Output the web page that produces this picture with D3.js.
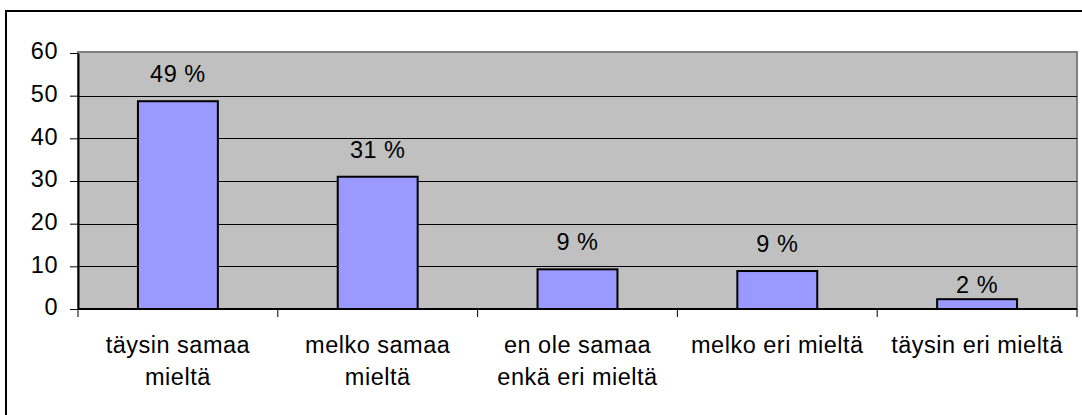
<!DOCTYPE html>
<html>
<head>
<meta charset="utf-8">
<script src="https://cdn.jsdelivr.net/npm/d3@7"></script>
<style>
  body { margin: 0; background: #fff; }
  text { font-family: "Liberation Sans", Arial, sans-serif; }
</style>
</head>
<body>
<svg id="vis" width="1082" height="415"></svg>
<script>
// chart data
var categories = ["täysin samaa mieltä", "melko samaa mieltä", "en ole samaa enkä eri mieltä", "melko eri mieltä", "täysin eri mieltä"];
var categoryLines = [["täysin samaa", "mieltä"], ["melko samaa", "mieltä"], ["en ole samaa", "enkä eri mieltä"], ["melko eri mieltä"], ["täysin eri mieltä"]];
var values = [48.7, 31.0, 9.3, 8.9, 2.3];
var valueLabels = ["49 %", "31 %", "9 %", "9 %", "2 %"];
var yTicks = [0, 10, 20, 30, 40, 50, 60];

var svg = d3.select("#vis");
var plot = { left: 78, top: 52, right: 1077, bottom: 309 };
var fontSize = 23.5;
var spacing = "0.5px";

var x = d3.scaleBand().domain(categories).range([plot.left, plot.right]).padding(0);
var y = d3.scaleLinear().domain([0, 60]).range([plot.bottom, plot.top + 1]);

// outer frame (only top and left are visible, rest falls off the picture)
svg.append("rect")
    .attr("x", 6).attr("y", 11)
    .attr("width", 1200).attr("height", 600)
    .attr("fill", "none").attr("stroke", "#000").attr("stroke-width", 2);

// plot area
svg.append("rect")
    .attr("x", plot.left).attr("y", plot.top)
    .attr("width", plot.right - plot.left).attr("height", plot.bottom - plot.top)
    .attr("fill", "#c0c0c0").attr("stroke", "#808080").attr("stroke-width", 2);

// gridlines
svg.append("g").selectAll("line")
    .data(yTicks.filter(d => d > 0 && d < 60))
    .join("line")
    .attr("x1", plot.left).attr("x2", plot.right)
    .attr("y1", d => Math.round(y(d)) + 0.5).attr("y2", d => Math.round(y(d)) + 0.5)
    .attr("stroke", "#000").attr("stroke-width", 1);

// bars
var barW = x.bandwidth() * 0.4;
svg.append("g").selectAll("rect")
    .data(values)
    .join("rect")
    .attr("x", (d, i) => x(categories[i]) + (x.bandwidth() - barW) / 2)
    .attr("y", d => y(d))
    .attr("width", barW)
    .attr("height", d => plot.bottom - y(d))
    .attr("fill", "#9999ff")
    .attr("stroke", "#000")
    .attr("stroke-width", 2);

// value labels (excel pulls the smallest one down closer to the bar)
var labelGap = [19, 19, 19, 19, 6];
svg.append("g").selectAll("text")
    .data(values)
    .join("text")
    .attr("x", (d, i) => x(categories[i]) + x.bandwidth() / 2)
    .attr("y", (d, i) => y(d) - labelGap[i])
    .attr("text-anchor", "middle")
    .attr("font-size", fontSize + "px")
    .attr("letter-spacing", spacing)
    .attr("fill", "#000")
    .text((d, i) => valueLabels[i]);

// y axis
var yAxis = svg.append("g")
    .attr("transform", `translate(${plot.left},0)`)
    .call(d3.axisLeft(y).tickValues(yTicks).tickSize(8).tickPadding(12).tickSizeOuter(0));
yAxis.select(".domain").attr("stroke", "#000").attr("stroke-width", 2);
yAxis.selectAll(".tick line").attr("stroke", "#000");
yAxis.selectAll(".tick text")
    .attr("font-size", fontSize + "px")
    .attr("font-family", "Liberation Sans, Arial, sans-serif")
    .attr("letter-spacing", spacing)
    .attr("dy", "0.25em")
    .attr("fill", "#000");

// x axis line
svg.append("line")
    .attr("x1", plot.left).attr("x2", plot.right)
    .attr("y1", plot.bottom).attr("y2", plot.bottom)
    .attr("stroke", "#000").attr("stroke-width", 2);

// x ticks at category boundaries
var edges = categories.map(c => x(c)).concat([plot.right]);
svg.append("g").selectAll("line")
    .data(edges)
    .join("line")
    .attr("x1", d => d).attr("x2", d => d)
    .attr("y1", plot.bottom).attr("y2", plot.bottom + 8)
    .attr("stroke", "#000").attr("stroke-width", 1);

// category labels
var catText = svg.append("g").selectAll("text")
    .data(categoryLines)
    .join("text")
    .attr("x", (d, i) => x(categories[i]) + x.bandwidth() / 2)
    .attr("y", 353)
    .attr("text-anchor", "middle")
    .attr("font-size", fontSize + "px")
    .attr("letter-spacing", spacing)
    .attr("fill", "#000");
catText.each(function(lines, i) {
    var cx = x(categories[i]) + x.bandwidth() / 2;
    d3.select(this).selectAll("tspan")
        .data(lines)
        .join("tspan")
        .attr("x", cx)
        .attr("dy", (l, j) => j == 0 ? 0 : 32)
        .text(l => l);
});
</script>
</body>
</html>
